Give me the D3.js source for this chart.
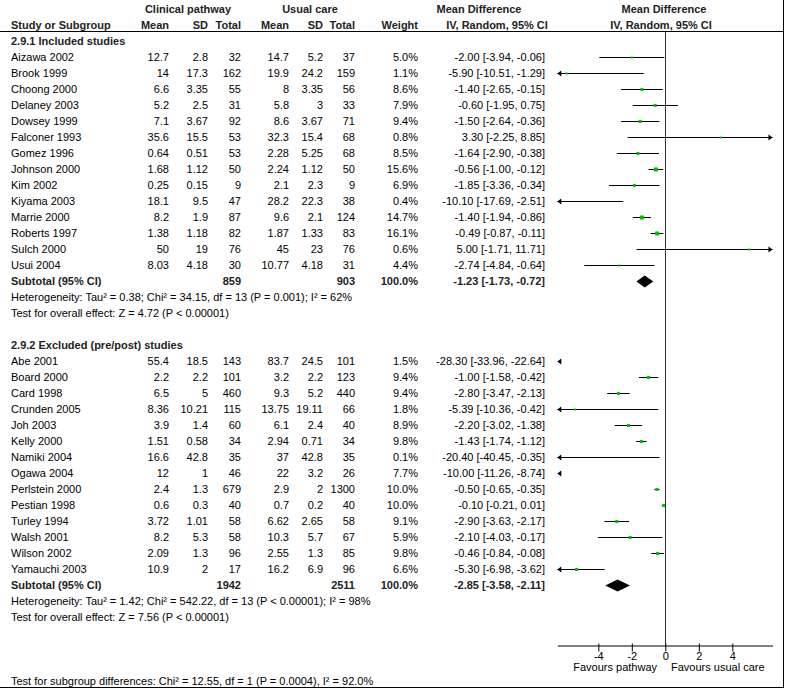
<!DOCTYPE html>
<html><head><meta charset="utf-8">
<script src="https://cdn.jsdelivr.net/npm/d3@7"></script>
<style>
body{margin:0;background:#fff}
svg{display:block}
text{font-family:"Liberation Sans",Arial,sans-serif;font-size:11px;fill:#000}
.b{font-weight:bold;fill:#222}
</style>
</head><body>
<svg id="chart" width="785" height="689"></svg>
<script>
// ---------- DATA ----------
const group1Title = "2.9.1 Included studies";
const group1Names = ["Aizawa 2002","Brook 1999","Choong 2000","Delaney 2003","Dowsey 1999","Falconer 1993","Gomez 1996","Johnson 2000","Kim 2002","Kiyama 2003","Marrie 2000","Roberts 1997","Sulch 2000","Usui 2004"];
const group1Pathway = [[12.7,2.8,32],[14,17.3,162],[6.6,3.35,55],[5.2,2.5,31],[7.1,3.67,92],[35.6,15.5,53],[0.64,0.51,53],[1.68,1.12,50],[0.25,0.15,9],[18.1,9.5,47],[8.2,1.9,87],[1.38,1.18,82],[50,19,76],[8.03,4.18,30]];
const group1Usual = [[14.7,5.2,37],[19.9,24.2,159],[8,3.35,56],[5.8,3,33],[8.6,3.67,71],[32.3,15.4,68],[2.28,5.25,68],[2.24,1.12,50],[2.1,2.3,9],[28.2,22.3,38],[9.6,2.1,124],[1.87,1.33,83],[45,23,76],[10.77,4.18,31]];
const group1Weights = [5.0,1.1,8.6,7.9,9.4,0.8,8.5,15.6,6.9,0.4,14.7,16.1,0.6,4.4];
const group1Effects = [[-2.00,-3.94,-0.06],[-5.90,-10.51,-1.29],[-1.40,-2.65,-0.15],[-0.60,-1.95,0.75],[-1.50,-2.64,-0.36],[3.30,-2.25,8.85],[-1.64,-2.90,-0.38],[-0.56,-1.00,-0.12],[-1.85,-3.36,-0.34],[-10.10,-17.69,-2.51],[-1.40,-1.94,-0.86],[-0.49,-0.87,-0.11],[5.00,-1.71,11.71],[-2.74,-4.84,-0.64]];
const group1Subtotal = {n1:859, n2:903, effect:[-1.23,-1.73,-0.72]};
const group1Het = "Heterogeneity: Tau\u00b2 = 0.38; Chi\u00b2 = 34.15, df = 13 (P = 0.001); I\u00b2 = 62%";
const group1Test = "Test for overall effect: Z = 4.72 (P < 0.00001)";

const group2Title = "2.9.2 Excluded (pre/post) studies";
const group2Names = ["Abe 2001","Board 2000","Card 1998","Crunden 2005","Joh 2003","Kelly 2000","Namiki 2004","Ogawa 2004","Perlstein 2000","Pestian 1998","Turley 1994","Walsh 2001","Wilson 2002","Yamauchi 2003"];
const group2Pathway = [[55.4,18.5,143],[2.2,2.2,101],[6.5,5,460],[8.36,10.21,115],[3.9,1.4,60],[1.51,0.58,34],[16.6,42.8,35],[12,1,46],[2.4,1.3,679],[0.6,0.3,40],[3.72,1.01,58],[8.2,5.3,58],[2.09,1.3,96],[10.9,2,17]];
const group2Usual = [[83.7,24.5,101],[3.2,2.2,123],[9.3,5.2,440],[13.75,19.11,66],[6.1,2.4,40],[2.94,0.71,34],[37,42.8,35],[22,3.2,26],[2.9,2,1300],[0.7,0.2,40],[6.62,2.65,58],[10.3,5.7,67],[2.55,1.3,85],[16.2,6.9,96]];
const group2Weights = [1.5,9.4,9.4,1.8,8.9,9.8,0.1,7.7,10.0,10.0,9.1,5.9,9.8,6.6];
const group2Effects = [[-28.30,-33.96,-22.64],[-1.00,-1.58,-0.42],[-2.80,-3.47,-2.13],[-5.39,-10.36,-0.42],[-2.20,-3.02,-1.38],[-1.43,-1.74,-1.12],[-20.40,-40.45,-0.35],[-10.00,-11.26,-8.74],[-0.50,-0.65,-0.35],[-0.10,-0.21,0.01],[-2.90,-3.63,-2.17],[-2.10,-4.03,-0.17],[-0.46,-0.84,-0.08],[-5.30,-6.98,-3.62]];
const group2Subtotal = {n1:1942, n2:2511, effect:[-2.85,-3.58,-2.11]};
const group2Het = "Heterogeneity: Tau\u00b2 = 1.42; Chi\u00b2 = 542.22, df = 13 (P < 0.00001); I\u00b2 = 98%";
const group2Test = "Test for overall effect: Z = 7.56 (P < 0.00001)";

const subgroupTest = "Test for subgroup differences: Chi\u00b2 = 12.55, df = 1 (P = 0.0004), I\u00b2 = 92.0%";
const tickValues = [-4,-2,0,2,4];
const leftLabel = "Favours pathway";
const rightLabel = "Favours usual care";

// ---------- LAYOUT ----------
const svg = d3.select("#chart");
const x = d3.scaleLinear().domain([-6.45, 6.4]).range([557.3, 772.5]);
const [xmin, xmax] = x.domain();
const rowY = d3.scaleLinear().domain([0, 1]).range([40.5, 56.5]);
const col = {name:11, m1:169, sd1:208, n1:241, m2:289, sd2:323, n2:355, w:418, md:545};
const fmt2 = d => d.toFixed(2);
const mdText = e => `${fmt2(e[0])} [${fmt2(e[1])}, ${fmt2(e[2])}]`;

function txt(xp, yp, s, anchor, bold) {
  svg.append("text").attr("x", xp).attr("y", yp).attr("text-anchor", anchor || "start")
    .attr("class", bold ? "b" : null).text(s);
}

// header
txt(188, 13, "Clinical pathway", "middle", true);
txt(310, 13, "Usual care", "middle", true);
txt(479, 13, "Mean Difference", "middle", true);
txt(664, 13, "Mean Difference", "middle", true);
txt(col.name, 28.5, "Study or Subgroup", "start", true);
txt(col.m1, 28.5, "Mean", "end", true);
txt(col.sd1, 28.5, "SD", "end", true);
txt(col.n1, 28.5, "Total", "end", true);
txt(col.m2, 28.5, "Mean", "end", true);
txt(col.sd2, 28.5, "SD", "end", true);
txt(col.n2, 28.5, "Total", "end", true);
txt(col.w, 28.5, "Weight", "end", true);
txt(497, 28.5, "IV, Random, 95% CI", "middle", true);
txt(661, 28.5, "IV, Random, 95% CI", "middle", true);

svg.append("line").attr("x1", 0).attr("x2", 783.5).attr("y1", 31.5).attr("y2", 31.5).attr("stroke", "#000");
svg.append("line").attr("x1", 783.5).attr("x2", 783.5).attr("y1", 0).attr("y2", 687.5).attr("stroke", "#000");
svg.append("line").attr("x1", 0).attr("x2", 784).attr("y1", 687.5).attr("y2", 687.5).attr("stroke", "#000");

// zero line
svg.append("line").attr("x1", Math.round(x(0)) + 0.5).attr("x2", Math.round(x(0)) + 0.5)
  .attr("y1", 32).attr("y2", 646).attr("stroke", "#333");

const plot = svg.append("g");

function arrow(xp, yp, dir) {
  const p = d3.path();
  p.moveTo(xp, yp); p.lineTo(xp - dir * 4, yp - 3); p.lineTo(xp - dir * 4, yp + 3); p.closePath();
  plot.append("path").attr("d", p.toString()).attr("fill", "#000");
}

function drawStudy(e, w, yc) {
  const [m, lo, hi] = e;
  const yl = Math.round(yc) + 0.5;
  if (hi < xmin) { arrow(x(xmin), yl, -1); return; }
  if (lo > xmax) { arrow(x(xmax), yl, 1); return; }
  const a = x(Math.max(lo, xmin)), b = x(Math.min(hi, xmax));
  plot.append("line").attr("x1", a).attr("x2", b).attr("y1", yl).attr("y2", yl).attr("stroke", "#000");
  if (lo < xmin) arrow(x(xmin), yl, -1);
  if (hi > xmax) arrow(x(xmax), yl, 1);
  if (m >= xmin && m <= xmax) {
    const s = Math.max(2, Math.round(1.1 * Math.sqrt(w)));
    plot.append("rect").attr("x", x(m) - s / 2).attr("y", yl - s / 2)
      .attr("width", s).attr("height", s).attr("fill", "#00c000");
  }
}

function drawDiamond(e, yc) {
  const [m, lo, hi] = e;
  const p = d3.path();
  p.moveTo(x(lo), yc); p.lineTo(x(m), yc - 6); p.lineTo(x(hi), yc); p.lineTo(x(m), yc + 6); p.closePath();
  plot.append("path").attr("d", p.toString()).attr("fill", "#000");
}

function drawGroup(start, title, names, cp, uc, wts, effs, sub, het, test) {
  let i = start;
  txt(col.name, rowY(i) + 4, title, "start", true);
  names.forEach((nm, k) => {
    i++;
    const yb = rowY(i) + 4;
    txt(col.name, yb, nm);
    txt(col.m1, yb, String(cp[k][0]), "end");
    txt(col.sd1, yb, String(cp[k][1]), "end");
    txt(col.n1, yb, String(cp[k][2]), "end");
    txt(col.m2, yb, String(uc[k][0]), "end");
    txt(col.sd2, yb, String(uc[k][1]), "end");
    txt(col.n2, yb, String(uc[k][2]), "end");
    txt(col.w, yb, wts[k].toFixed(1) + "%", "end");
    txt(col.md, yb, mdText(effs[k]), "end");
    drawStudy(effs[k], wts[k], rowY(i));
  });
  i++;
  const ys = rowY(i) + 4;
  txt(col.name, ys, "Subtotal (95% CI)", "start", true);
  txt(col.n1, ys, String(sub.n1), "end", true);
  txt(col.n2, ys, String(sub.n2), "end", true);
  txt(col.w, ys, "100.0%", "end", true);
  txt(col.md, ys, mdText(sub.effect), "end", true);
  drawDiamond(sub.effect, Math.round(rowY(i)) + 0.5);
  i++;
  txt(col.name, rowY(i) + 4, het);
  i++;
  txt(col.name, rowY(i) + 4, test);
  return i;
}

let last = drawGroup(0, group1Title, group1Names, group1Pathway, group1Usual, group1Weights, group1Effects, group1Subtotal, group1Het, group1Test);
last = drawGroup(last + 2, group2Title, group2Names, group2Pathway, group2Usual, group2Weights, group2Effects, group2Subtotal, group2Het, group2Test);

txt(col.name, 684.5, subgroupTest);

// axis
const axis = d3.axisBottom(x).tickValues(tickValues).tickSize(6).tickSizeOuter(0).tickPadding(1).tickFormat(d => String(d));
const ag = svg.append("g").attr("transform", "translate(0,645.5)").call(axis);
ag.attr("font-family", null).attr("font-size", null);
ag.select(".domain").attr("stroke", "#000");
ag.selectAll(".tick line").attr("stroke", "#000").attr("y1", -2);
ag.selectAll(".tick text").attr("fill", "#000");

txt(657, 671, leftLabel, "end");
txt(671, 671, rightLabel, "start");
</script>
</body></html>
